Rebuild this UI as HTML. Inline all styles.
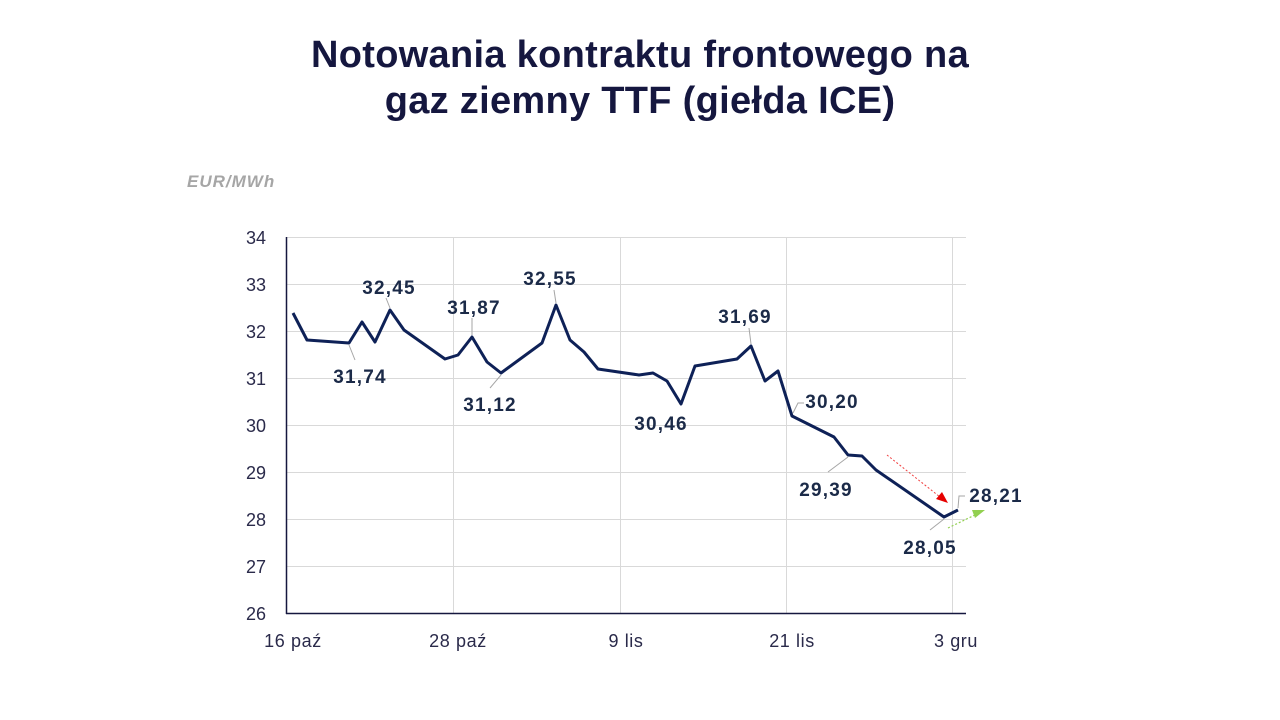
<!DOCTYPE html>
<html><head><meta charset="utf-8"><style>
html,body{margin:0;padding:0;background:#fff;}
svg{display:block;font-family:"Liberation Sans",Arial,sans-serif;}
</style></head><body>
<svg width="1280" height="720" viewBox="0 0 1280 720">
<text x="640" y="67" text-anchor="middle" font-size="38" font-weight="bold" fill="#15173f" letter-spacing="0.3">Notowania kontraktu frontowego na</text>
<text x="640" y="113" text-anchor="middle" font-size="38" font-weight="bold" fill="#15173f" letter-spacing="0.3">gaz ziemny TTF (giełda ICE)</text>
<text x="187" y="187" font-size="17" font-weight="bold" font-style="italic" fill="#a6a6a6" letter-spacing="1">EUR/MWh</text>
<g stroke="#d9d9d9" stroke-width="1">
<line x1="287" y1="237.5" x2="966" y2="237.5"/><line x1="287" y1="284.5" x2="966" y2="284.5"/>
<line x1="287" y1="331.5" x2="966" y2="331.5"/><line x1="287" y1="378.5" x2="966" y2="378.5"/>
<line x1="287" y1="425.5" x2="966" y2="425.5"/><line x1="287" y1="472.5" x2="966" y2="472.5"/>
<line x1="287" y1="519.5" x2="966" y2="519.5"/><line x1="287" y1="566.5" x2="966" y2="566.5"/>
<line x1="453.5" y1="237" x2="453.5" y2="613"/><line x1="620.5" y1="237" x2="620.5" y2="613"/>
<line x1="786.5" y1="237" x2="786.5" y2="613"/><line x1="952.5" y1="237" x2="952.5" y2="613"/>
</g>
<line x1="286.5" y1="237" x2="286.5" y2="614" stroke="#15173f" stroke-width="1.5"/>
<line x1="286" y1="613.5" x2="966" y2="613.5" stroke="#15173f" stroke-width="1.5"/>
<g font-size="18" fill="#2a2a4a" text-anchor="end">
<text x="266" y="244">34</text><text x="266" y="291">33</text><text x="266" y="338">32</text>
<text x="266" y="385">31</text><text x="266" y="432">30</text><text x="266" y="479">29</text>
<text x="266" y="526">28</text><text x="266" y="573">27</text><text x="266" y="620">26</text>
</g>
<g font-size="18" fill="#2a2a4a" text-anchor="middle" letter-spacing="0.6">
<text x="293" y="647">16 paź</text><text x="458" y="647">28 paź</text><text x="626" y="647">9 lis</text>
<text x="792" y="647">21 lis</text><text x="956" y="647">3 gru</text>
</g>
<polyline fill="none" stroke="#0e2157" stroke-width="3" stroke-linejoin="round" points="293,313 307,340 349,343 362,322 375,342 390,310 404,330 445,359 458,355 472,337 487,362 501,373 542,343 556,305 570,340 584,352 598,369 639,375 653,373 667,381 681,404 695,366 737,359 751,346 765,381 778,371 792,416 834,437 848,455 862,456 876,470 931,508 944,517 958,510"/>
<g stroke="#a6a6a6" stroke-width="1" fill="none">
<line x1="349" y1="345" x2="355" y2="360"/>
<line x1="390" y1="308" x2="386" y2="298"/>
<line x1="472" y1="335" x2="472" y2="318"/>
<line x1="501" y1="375" x2="490" y2="388"/>
<line x1="556" y1="303" x2="554" y2="290"/>
<line x1="751" y1="344" x2="749" y2="328"/>
<polyline points="793,413 798,403 804,403"/>
<line x1="848" y1="457" x2="828" y2="472"/>
<line x1="944" y1="519" x2="930" y2="530"/>
<polyline points="958,508 959,496 965,496"/>
</g>
<g font-size="19" font-weight="bold" fill="#1b2a48" text-anchor="middle" letter-spacing="1.2">
<text x="360" y="383">31,74</text><text x="389" y="294">32,45</text><text x="474" y="314">31,87</text>
<text x="490" y="411">31,12</text><text x="550" y="285">32,55</text><text x="661" y="430">30,46</text>
<text x="745" y="323">31,69</text><text x="832" y="408">30,20</text><text x="826" y="496">29,39</text>
<text x="930" y="554">28,05</text><text x="996" y="502">28,21</text>
</g>
<line x1="887" y1="455" x2="940" y2="497" stroke="#f04040" stroke-width="1" stroke-dasharray="2,2"/>
<polygon points="948,503 936,499 942,492" fill="#e60000"/>
<line x1="948" y1="528" x2="977" y2="514" stroke="#92d050" stroke-width="1.2" stroke-dasharray="2,2"/>
<polygon points="985,510 975,518 972,510" fill="#92d050"/>
</svg>
</body></html>
